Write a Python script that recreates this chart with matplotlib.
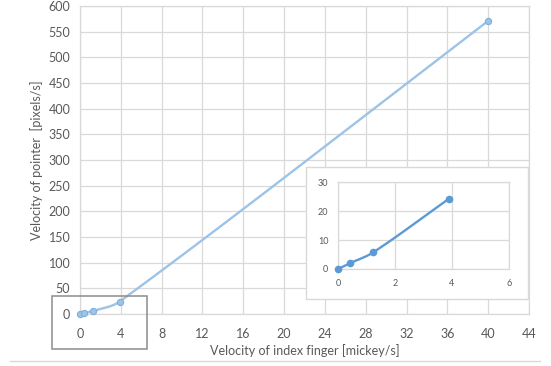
import numpy as np
import matplotlib
matplotlib.use("Agg")
import matplotlib.pyplot as plt
from matplotlib.patches import Rectangle
from matplotlib.lines import Line2D

# ---------------- DATA ----------------
finger_vel = [0, 0.42, 1.23, 3.9, 40]        # mickey/s
pointer_vel = [0, 2.0, 5.7, 24.3, 571]       # pixels/s
inset_n = 4                                  # points shown in the zoomed inset
x_ticks = [0, 4, 8, 12, 16, 20, 24, 28, 32, 36, 40, 44]
y_ticks = [0, 50, 100, 150, 200, 250, 300, 350, 400, 450, 500, 550, 600]
inset_x_ticks = [0, 2, 4, 6]
inset_y_ticks = [0, 10, 20, 30]
# --------------------------------------

plt.rcParams['font.family'] = ['Lato', 'DejaVu Sans']

GRID = "#D9D9D9"
TXT = "#595959"


def smooth(xs, ys, sx=1.0, sy=1.0, n=80):
    # smoothed line: bezier segments, tangent length limited by the segment
    # length (in screen scale) so the curve doesn't overshoot
    p = np.column_stack([np.asarray(xs) * sx, np.asarray(ys) * sy]).astype(float)
    out = [p[0]]
    t = np.linspace(0, 1, n)[1:, None]

    def tangent(i):
        a = p[i - 1] if i > 0 else p[i]
        b = p[i + 1] if i + 1 < len(p) else p[i]
        d = b - a
        return d / np.linalg.norm(d)

    for i in range(len(p) - 1):
        L = np.linalg.norm(p[i + 1] - p[i])
        c1 = p[i] + tangent(i) * L / 3
        c2 = p[i + 1] - tangent(i + 1) * L / 3
        seg = ((1 - t) ** 3 * p[i] + 3 * (1 - t) ** 2 * t * c1
               + 3 * (1 - t) * t ** 2 * c2 + t ** 3 * p[i + 1])
        out.extend(seg)
    out = np.array(out)
    return out[:, 0] / sx, out[:, 1] / sy


fig = plt.figure(figsize=(5.51, 3.66), dpi=100)

# ----------- MAIN AXES -----------
ax = fig.add_axes([80 / 551, 1 - 314 / 366, 449 / 551, 308 / 366])
mx, my = smooth(finger_vel, pointer_vel, 449 / 44, 308 / 600)
ax.plot(mx, my, color="#9DC3E6", lw=1.7, zorder=3, clip_on=False)
ax.plot(finger_vel, pointer_vel, 'o', ms=4.5, color="#9DC3E6",
        mec="#7FAFDD", mew=0.8, zorder=4, clip_on=False)
ax.set_xlim(0, 44)
ax.set_ylim(0, 600)
ax.set_xticks(x_ticks)
ax.set_yticks(y_ticks)
ax.grid(True, color=GRID, lw=0.9)
ax.set_axisbelow(True)
for s in ax.spines.values():
    s.set_color(GRID)
    s.set_linewidth(0.9)
ax.tick_params(axis='x', length=0, labelsize=9, colors=TXT, pad=10)
ax.tick_params(axis='y', length=0, labelsize=9, colors=TXT, pad=7)
ax.set_xlabel("Velocity of index finger [mickey/s]", fontsize=9, color=TXT, labelpad=3)
ax.set_ylabel("Velocity of pointer  [pixels/s]", fontsize=9, color=TXT, labelpad=4)

# box around the origin region
fig.add_artist(Rectangle((52 / 551, 1 - 349 / 366), 95 / 551, 53 / 366,
                         transform=fig.transFigure, fill=False,
                         ec="#8C8C8C", lw=1.1, zorder=10))

# ----------- INSET -----------
fig.add_artist(Rectangle((306 / 551, 1 - 299 / 366), 222 / 551, 132 / 366,
                         transform=fig.transFigure, fc="white",
                         ec=GRID, lw=1.0, zorder=5))
ins = fig.add_axes([338 / 551, 1 - 269 / 366, 171 / 551, 87 / 366], zorder=6)
ix, iy = smooth(finger_vel[:inset_n], pointer_vel[:inset_n], 171 / 6, 87 / 30)
ins.plot(ix, iy, color="#5B9BD5", lw=1.7, zorder=3, clip_on=False)
ins.plot(finger_vel[:inset_n], pointer_vel[:inset_n], 'o', ms=4.5,
         color="#5B9BD5", zorder=4, clip_on=False)
ins.set_xlim(0, 6)
ins.set_ylim(0, 30)
ins.set_xticks(inset_x_ticks)
ins.set_yticks(inset_y_ticks)
ins.grid(True, color=GRID, lw=0.9)
ins.set_axisbelow(True)
for s in ins.spines.values():
    s.set_color(GRID)
    s.set_linewidth(0.9)
ins.tick_params(length=0, labelsize=6.5, colors=TXT, pad=7)

# bottom separator line
fig.add_artist(Line2D([10 / 551, 540 / 551], [1 - 361 / 366] * 2,
                      transform=fig.transFigure, color=GRID, lw=1.0))

fig.savefig("out.png", dpi=100)
